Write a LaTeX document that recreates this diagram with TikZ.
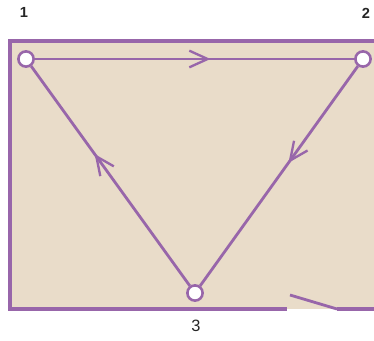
\documentclass[tikz,border=0pt]{standalone}
\usepackage{fontspec}
\setmainfont{Liberation Sans}
\usetikzlibrary{arrows.meta,decorations.markings}

\definecolor{plum}{RGB}{152,102,170}
\definecolor{sand}{RGB}{233,220,201}

\begin{document}
\begin{tikzpicture}[
  x=0.03cm, y=-0.03cm,
  font=\small,
  wire/.style={draw=plum, line width=3.2pt},
  pin/.style={circle, draw=plum, fill=white, line width=2.2pt, minimum size=13pt, inner sep=0pt},
  num/.style={font=\fontsize{12.5}{14}\selectfont\bfseries, text=black!85, inner sep=1pt},
  flow/.style={draw=plum, line width=2.4pt, postaction={decorate},
    decoration={markings, mark=at position #1 with {\arrow[plum, line width=2pt]{Straight Barb[length=5.5mm, width=5mm]}}}}
]
\useasboundingbox (0,0) rectangle (374,340);

% ---------------- panel ----------------
\fill[sand] (10,41) rectangle (374,309);
\draw[wire] (374,41) -- (10,41) -- (10,309) -- (287,309);
\draw[wire] (337,309) -- (374,309);
\draw[plum, line width=2.4pt] (290,295) -- (337,309);

% ---------------- corners ----------------
\node[pin] (v1) at (26,59) {};
\node[pin] (v2) at (363,59) {};
\node[pin] (v3) at (195,293) {};

\node[num] (n1) at (24,12) {1};
\node[num] (n2) at (366,13) {2};
\node[num, font=\fontsize{14}{16}\selectfont] (n3) at (196,326) {3};

% ---------------- loop ----------------
\draw[flow=0.55] (v1) -- (v2);
\draw[flow=0.44] (v2) -- (v3);
\draw[flow=0.6] (v3) -- (v1);

\end{tikzpicture}
\end{document}
